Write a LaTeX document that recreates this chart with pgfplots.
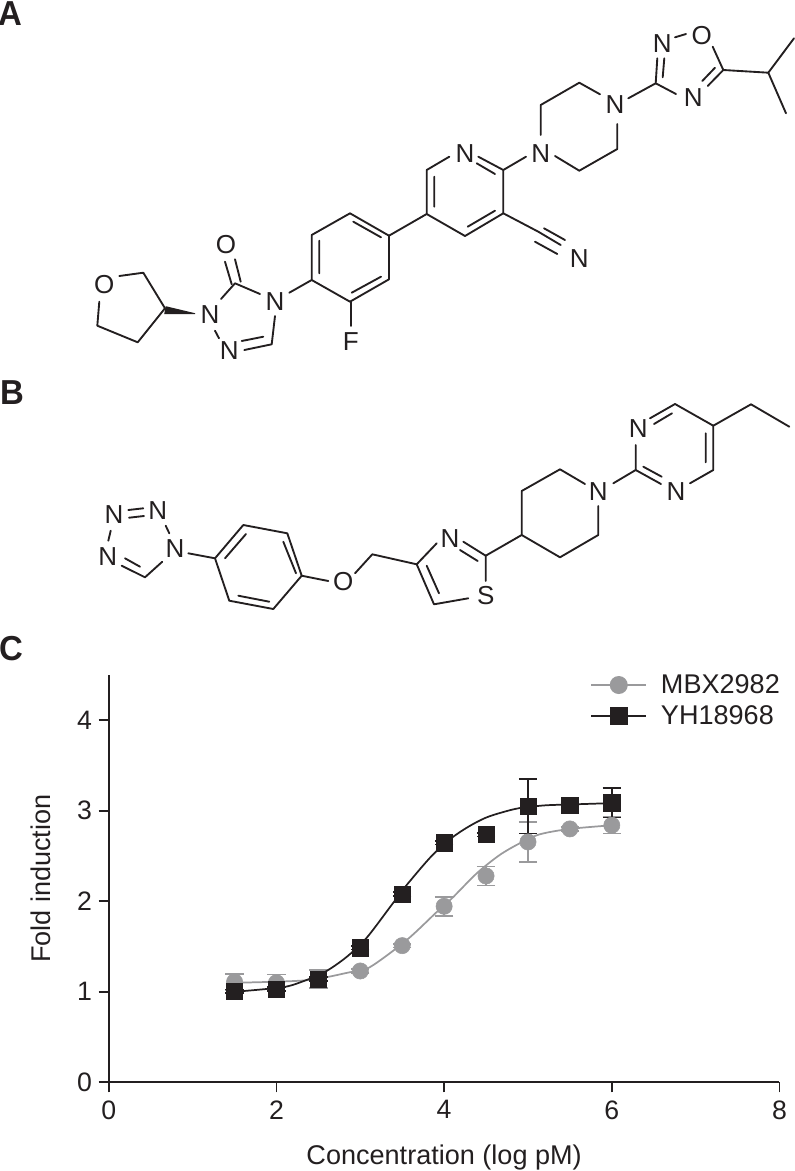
\documentclass[border=0pt]{standalone}
\usepackage{fontspec}
\setmainfont{Liberation Sans}
\usepackage{pgfplots}
\pgfplotsset{compat=1.18}
\definecolor{ink}{HTML}{231F20}
\definecolor{midgray}{HTML}{9A9A9C}
\pgfplotstableread{
x y e
1.5 1.11 0.09
2 1.10 0.09
2.5 1.14 0.10
3 1.23 0.02
3.5 1.51 0.02
4 1.945 0.105
4.5 2.28 0.105
5 2.656 0.22
5.5 2.80 0.02
6 2.84 0.09
}\mbx
\pgfplotstableread{
x y e
1.5 1.005 0.02
2 1.03 0.02
2.5 1.14 0.02
3 1.488 0.02
3.5 2.08 0.02
4 2.648 0.02
4.5 2.737 0.02
5 3.05 0.30
5.5 3.065 0.02
6 3.09 0.165
}\yh
\begin{document}
\begin{tikzpicture}[x=0.75pt,y=-0.75pt,
  bond/.style={line width=1.4pt,color=ink,line cap=round,line join=round},
  atom/.style={font=\fontsize{19.5}{21}\selectfont,text=ink,inner sep=0pt,anchor=center},
  let/.style={font=\fontsize{26}{28}\selectfont\bfseries,text=ink,inner sep=0pt,anchor=center,xscale=0.95}]
\path[use as bounding box] (0,0) rectangle (795,1171);
\node[let] at (10.5,14) {A};
\node[let] at (12,393) {B};
\node[let] at (11.5,649) {C};
% Molecule A
\draw[bond] (119.3,276)--(143.3,272.7)--(165,308.3)--(137.7,342.3)--(97.3,325.7)--(99.3,301.7);
\fill[ink] (165.8,306.2)--(164.2,314.2)--(195,314.2)--(195,313.2)--cycle;
\draw[bond] (221,299)--(235,283.3)--(260,294);
\draw[bond] (225,261.7)--(231.7,284.3) (235,259.3)--(240.7,281.7);
\draw[bond] (275,316)--(271.7,344.3)--(244.3,350) (263.3,336.7)--(241.7,341) (215,330.7)--(219,338.3);
\draw[bond] (289.3,292.7)--(311.7,280);
\draw[bond] (311.7,280)--(311.7,235)--(350,213.3)--(389,235.7)--(389,279.3)--(350,301.7)--cycle;
\draw[bond] (319.3,273.3)--(319.3,240.7) (353.3,221.7)--(381,237.3) (381,276.7)--(351.7,292.7);
\draw[bond] (350.7,301.7)--(350.7,326);
\draw[bond] (389,235.7)--(426.7,214);
\draw[bond] (449.3,156.7)--(426.7,170)--(426.7,214)--(465,236)--(503.3,213.3)--(503.3,170)--(478.3,156.7);
\draw[bond] (434.3,206.7)--(434.3,176.7) (476.7,163.3)--(495,174) (495,210.7)--(467.7,226.7);
\draw[bond] (503.3,170)--(526,156.7);
\draw[bond] (540.7,135)--(540.7,105)--(579.3,82.7)--(600,94.3);
\draw[bond] (617.3,124)--(617.3,149)--(579.3,170.7)--(555,156);
\draw[bond] (628.3,98.3)--(655.7,83.3)--(657.3,58.3) (662.7,77.3)--(664.3,58.3) (675,37.3)--(686,34);
\draw[bond] (712.7,46.7)--(723.3,70)--(707.7,86) (702.3,81)--(715,67.7) (655.7,83.3)--(676,94);
\draw[bond] (723.3,70)--(768.3,72.7)--(794,38.3) (768.3,72.7)--(786,113.3);
\draw[bond] (503.3,213.3)--(538.3,231.7) (544,228.3)--(565,240) (538.3,231.7)--(560.7,245) (535,241.7)--(557.3,254);
\node[atom] at (104.3,285) {O};
\node[atom] at (226,245) {O};
\node[atom] at (210,315) {N};
\node[atom] at (275,301.7) {N};
\node[atom] at (229.3,350.7) {N};
\node[atom] at (350.7,341.7) {F};
\node[atom] at (465,154) {N};
\node[atom] at (540.7,154) {N};
\node[atom] at (615,105) {N};
\node[atom] at (662.3,43.3) {N};
\node[atom] at (701.7,36) {O};
\node[atom] at (693.3,97.7) {N};
\node[atom] at (579.3,258.3) {N};
% Molecule B
\draw[bond] (128.3,510)--(143.3,508.3) (129,517.7)--(144,516) (165.7,525.7)--(169.3,533.3) (110.7,530.7)--(108.3,540.7);
\draw[bond] (121.7,565.7)--(145,577.3)--(162.3,561.7) (140,566.7)--(125,558.3);
\draw[bond] (188.3,553.3)--(215,558.3);
\draw[bond] (215,558.3)--(243.3,525)--(287.3,533.3)--(301.7,575.7)--(273.3,609)--(229.3,600.7)--cycle;
\draw[bond] (225,558.3)--(246,534) (283.3,541.7)--(296,573.3) (269.3,601.7)--(238.3,595.7);
\draw[bond] (301.7,575.7)--(328.3,581) (355,573.3)--(372.3,554.3)--(416.7,564.3);
\draw[bond] (436.7,543.3)--(416.7,564.3)--(434,604.3)--(468.3,598.3);
\draw[bond] (439,593.3)--(426.7,565.7);
\draw[bond] (463.3,541.7)--(485.7,555.7)--(485.7,581) (460,550)--(477.7,561);
\draw[bond] (485.7,555.7)--(521.7,535);
\draw[bond] (585,484)--(560,469.3)--(521.7,491)--(521.7,535)--(560,557.3)--(598.3,535)--(598.3,506);
\draw[bond] (613.3,483.3)--(635.7,470)--(635.7,445) (650,418.3)--(675,404)--(713.3,425.7)--(713.3,470)--(690,483.3);
\draw[bond] (635.7,470)--(661,484) (643.3,466.7)--(661.7,476.7) (654,424)--(672,413.3) (705.7,433.3)--(705.7,462.3);
\draw[bond] (713.3,425.7)--(751,404.3)--(789.3,426.7);
\node[atom] at (114,515) {N};
\node[atom] at (157.7,511) {N};
\node[atom] at (175,549) {N};
\node[atom] at (107.7,556.7) {N};
\node[atom] at (343.3,581.7) {O};
\node[atom] at (450,539) {N};
\node[atom] at (485.7,596) {S};
\node[atom] at (598.3,491.7) {N};
\node[atom] at (638.3,429) {N};
\node[atom] at (676,491.7) {N};
% Chart C
\begin{axis}[at={(81.6pt,-811.7pt)},anchor=origin,scale only axis,
  width=503pt,height=305.4pt,
  xmin=0,xmax=8,ymin=0,ymax=4.5,
  axis lines=left,axis line style={-,line width=1.3pt,color=ink},
  xtick={0,2,4,6,8},ytick={0,1,2,3,4},
  tick align=outside,tick style={line width=1.3pt,color=ink},
  major tick length=7.6pt,
  tick label style={font=\fontsize{20}{22}\selectfont,text=ink},
  xticklabel style={yshift=-2.5pt},
  yticklabel style={xshift=-1.5pt},
  /pgf/number format/assume math mode=true,
  xlabel={Concentration (log pM)},
  ylabel={Fold induction},
  xlabel style={yshift=-12pt},
  ylabel style={yshift=13pt},
  label style={font=\fontsize{20.3}{22}\selectfont,text=ink},
  clip=false,
  legend style={at={(0.712,1.015)},anchor=north west,draw=none,fill=none,
    font=\fontsize{20.3}{22}\selectfont,text=ink,row sep=3.5pt},
  legend cell align=left,
  legend image code/.code={\draw[#1,mark repeat=2,mark phase=2] plot coordinates {(0pt,0pt)(20.5pt,0pt)(41pt,0pt)}; \path (49.5pt,0pt);},
]
\addlegendimage{midgray,line width=1.3pt,mark=*,mark size=6.1pt,mark options={fill=midgray,draw=midgray}}
\addlegendentry{MBX2982}
\addlegendimage{ink,line width=1.3pt,mark=square*,mark size=6.1pt,mark options={fill=ink,draw=ink}}
\addlegendentry{YH18968}
\addplot[midgray,line width=1.3pt,smooth,forget plot] coordinates {(1.5,1.10)(2.35,1.127)(2.87,1.215)(3.11,1.27)(3.55,1.569)(3.91,1.88)(4.09,2.03)(4.39,2.31)(4.66,2.51)(4.9,2.64)(5.14,2.74)(5.5,2.80)(6,2.84)};
\addplot[midgray,only marks,mark=*,mark size=6.1pt,mark options={fill=midgray,draw=midgray},forget plot,
  error bars/.cd,y dir=both,y explicit,error bar style={line width=1.3pt,color=midgray},error mark options={rotate=90,mark size=6.9pt,line width=1.3pt,color=midgray}]
  table[x=x,y=y,y error=e] {\mbx};
\addplot[ink,line width=1.3pt,smooth,forget plot] coordinates {(1.5,1.0)(2.07,1.05)(2.3,1.11)(2.57,1.215)(2.83,1.38)(3.07,1.59)(3.37,1.955)(3.55,2.176)(3.85,2.5)(4.09,2.70)(4.3,2.83)(4.5,2.925)(4.7,2.985)(4.9,3.03)(5.2,3.06)(5.5,3.07)(6,3.085)};
\addplot[ink,only marks,mark=square*,mark size=6.1pt,mark options={fill=ink,draw=ink},forget plot,
  error bars/.cd,y dir=both,y explicit,error bar style={line width=1.3pt,color=ink},error mark options={rotate=90,mark size=6.9pt,line width=1.3pt,color=ink}]
  table[x=x,y=y,y error=e] {\yh};
\end{axis}
\end{tikzpicture}
\end{document}
